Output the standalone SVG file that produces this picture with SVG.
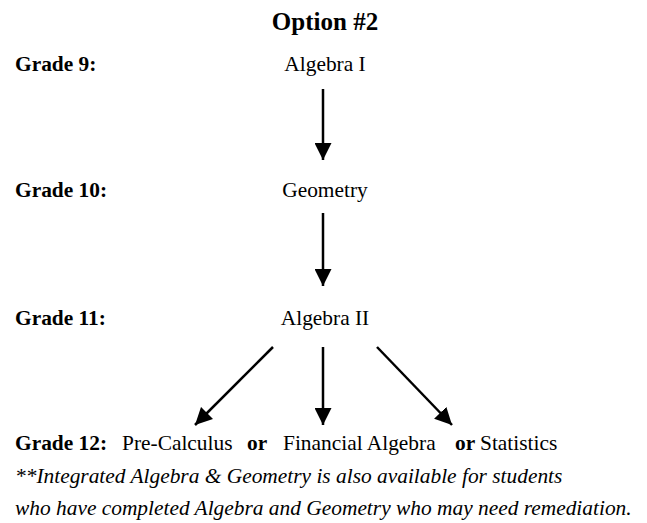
<svg xmlns="http://www.w3.org/2000/svg" width="647" height="523" viewBox="0 0 647 523" font-family="'Liberation Serif', 'Times New Roman', serif">
<defs>
<style>
text{fill:#000;font-size:21.4px}
.b{font-weight:bold}
.t{font-weight:bold;font-size:25px}
.i{font-style:italic}
.m{text-anchor:middle}
.c line{stroke:#000;stroke-width:2.5}
</style>
<marker id="ah" viewBox="0 0 10 10" refX="10" refY="5" markerWidth="17" markerHeight="17" markerUnits="userSpaceOnUse" orient="auto">
<path d="M0,0 L10,5 L0,10 z" fill="#000"/>
</marker>
</defs>
<rect width="647" height="523" fill="#fff"/>
<g id="title"><text class="t m" x="325" y="30">Option #2</text></g>
<g id="grade9"><text class="b" x="15" y="71">Grade 9:</text><text class="m" x="325" y="71">Algebra I</text></g>
<g id="grade10"><text class="b" x="15" y="197">Grade 10:</text><text class="m" x="325" y="197">Geometry</text></g>
<g id="grade11"><text class="b" x="15" y="325">Grade 11:</text><text class="m" x="325" y="325">Algebra II</text></g>
<g id="grade12"><text y="450"><tspan class="b" x="15">Grade 12:</tspan><tspan x="122">Pre-Calculus</tspan><tspan class="b" x="247">or</tspan><tspan x="283">Financial Algebra</tspan><tspan class="b" x="455">or</tspan><tspan x="480">Statistics</tspan></text></g>
<g id="note"><text class="i" x="15" y="483">**Integrated Algebra &amp; Geometry is also available for students</text><text class="i" x="15" y="515">who have completed Algebra and Geometry who may need remediation.</text></g>
<g class="c" id="connectors">
<line x1="323" y1="89" x2="323" y2="160" marker-end="url(#ah)"/>
<line x1="323" y1="213" x2="323" y2="286" marker-end="url(#ah)"/>
<line x1="273" y1="347" x2="195" y2="425" marker-end="url(#ah)"/>
<line x1="323" y1="347" x2="323" y2="425" marker-end="url(#ah)"/>
<line x1="377" y1="347" x2="452" y2="425" marker-end="url(#ah)"/>
</g>
</svg>
